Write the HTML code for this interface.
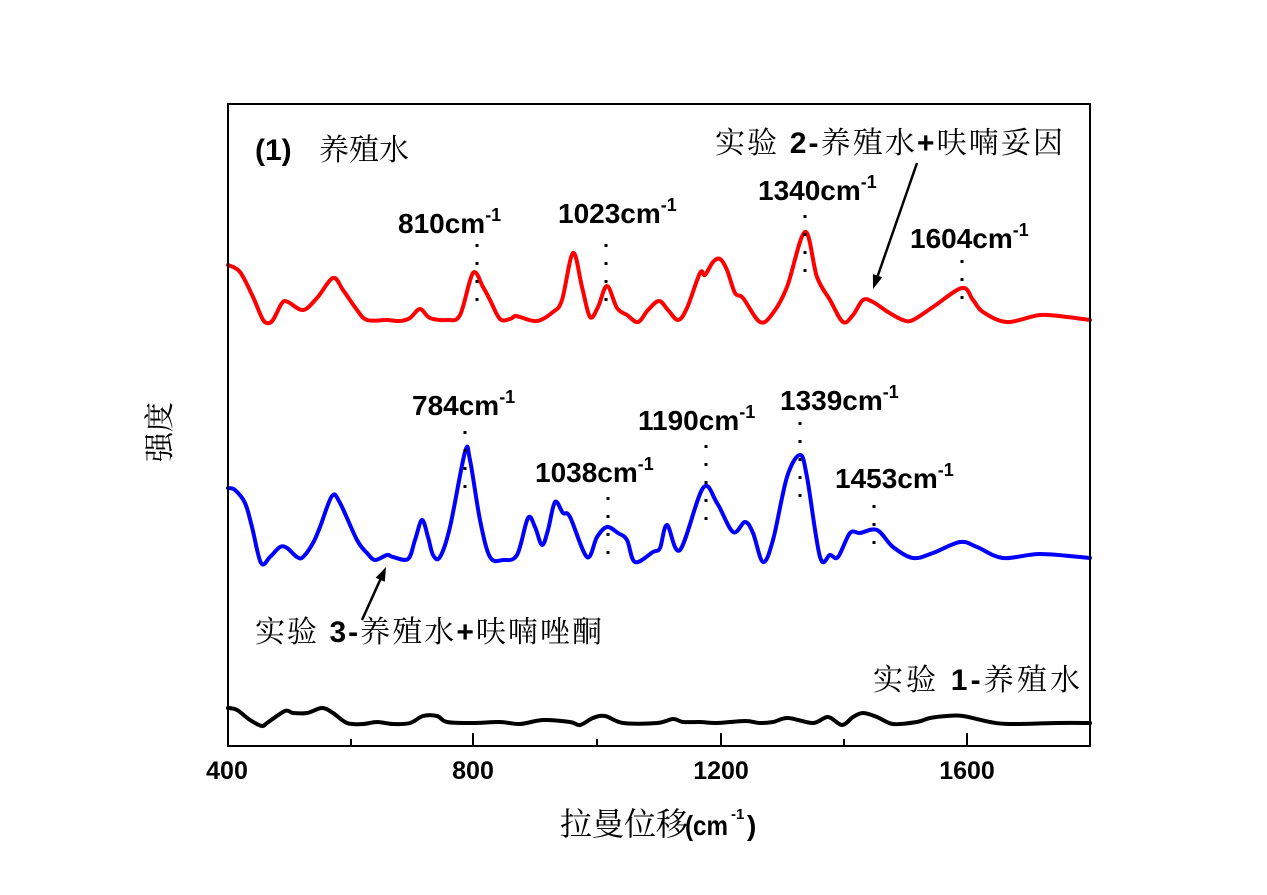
<!DOCTYPE html>
<html><head><meta charset="utf-8"><style>
html,body{margin:0;padding:0;background:#fff;}
svg{display:block;}
.num{font-family:"Liberation Sans",Arial,sans-serif;font-weight:bold;font-size:28px;fill:#000;}
.cjk{font-family:"Liberation Sans","Noto Serif CJK SC","Noto Sans CJK SC",serif;font-size:30px;fill:#000;}
.b{font-family:"Liberation Sans",sans-serif;font-weight:bold;}
.tick{font-family:"Liberation Sans",Arial,sans-serif;font-weight:bold;font-size:25px;fill:#000;}
</style></head><body>
<svg id="s" width="1267" height="895" viewBox="0 0 1267 895" xmlns="http://www.w3.org/2000/svg">
<rect width="1267" height="895" fill="#fff"/>

<!-- red curve -->
<polyline class="smooth" fill="none" stroke="#ff0000" stroke-width="4" stroke-linejoin="round" stroke-linecap="round" points="
228,265 240,272 253,297 262,318 267,323 273,320 282,303 288,302 303,310 317,298 333,278 343,290 357,310 367,320 387,320 400,321 410,318 420,309 430,318 447,320 460,315 473,273 483,287 490,300 500,319 510,319 515,316 520,317 537,321 553,312 562,300 573,253 582,287 590,317 598,307 607,286 617,308 627,315 638,322 648,310 659,301 668,310 678,320 687,308 700,273 705,275 713,262 720,259 727,270 735,293 743,298 760,322 773,313 787,287 805,232 817,277 830,300 843,322 853,315 863,300 873,302 888,312 903,320 913,320 933,307 962,288 973,300 983,312 1007,322 1040,315 1067,317 1090,320"/>

<!-- blue curve -->
<polyline class="smooth" fill="none" stroke="#0000ff" stroke-width="4" stroke-linejoin="round" stroke-linecap="round" points="
228,488 235,490 245,503 252,527 261,563 270,557 280,547 287,548 297,557 303,557 313,543 320,527 332,496 340,503 357,540 367,553 375,560 387,555 393,557 408,559 415,540 422,520 428,537 433,555 440,557 450,527 465,452 470,460 480,520 490,557 503,560 517,555 528,518 535,527 542,545 548,530 555,502 563,513 570,517 587,557 597,537 607,527 618,533 627,540 635,562 653,552 660,548 667,525 680,550 703,488 717,503 733,532 745,522 753,533 763,562 773,540 787,477 800,455 807,477 820,557 830,555 838,557 850,533 860,533 877,530 893,547 913,558 933,553 960,542 977,547 1003,558 1040,554 1090,558"/>

<!-- black curve -->
<polyline class="smooth" fill="none" stroke="#000" stroke-width="4" stroke-linejoin="round" stroke-linecap="round" points="
228,708 237,710 250,720 262,726 267,723 285,711 293,713 307,713 322,708 333,713 347,723 363,724 377,722 393,724 410,723 423,716 437,716 447,722 473,723 500,722 520,724 543,720 570,722 580,725 593,718 605,716 623,723 657,723 673,719 683,722 700,722 717,723 745,721 760,723 773,722 788,718 813,723 828,717 842,725 853,717 863,713 877,717 893,724 917,722 930,718 947,716 963,716 990,722 1010,724 1057,723 1090,723"/>

<!-- frame -->
<rect x="228" y="104" width="862" height="642" fill="none" stroke="#000" stroke-width="2"/>
<!-- ticks -->
<g stroke="#000" stroke-width="2">
<line x1="228" y1="746" x2="228" y2="733"/>
<line x1="351" y1="746" x2="351" y2="739"/>
<line x1="473" y1="746" x2="473" y2="733"/>
<line x1="597" y1="746" x2="597" y2="739"/>
<line x1="721" y1="746" x2="721" y2="733"/>
<line x1="844" y1="746" x2="844" y2="739"/>
<line x1="967" y1="746" x2="967" y2="733"/>
</g>
<text class="tick" x="227" y="779" text-anchor="middle">400</text>
<text class="tick" x="473" y="779" text-anchor="middle">800</text>
<text class="tick" x="721" y="779" text-anchor="middle">1200</text>
<text class="tick" x="967" y="779" text-anchor="middle">1600</text>

<!-- dotted guide lines -->
<g stroke="#000" stroke-width="3" stroke-dasharray="3 15">
<line x1="477" y1="244" x2="477" y2="306"/>
<line x1="606" y1="244" x2="606" y2="302"/>
<line x1="805" y1="215" x2="805" y2="275"/>
<line x1="962" y1="260" x2="962" y2="303"/>
<line x1="465" y1="431" x2="465" y2="490"/>
<line x1="608" y1="497" x2="608" y2="555"/>
<line x1="706" y1="445" x2="706" y2="522"/>
<line x1="800" y1="422" x2="800" y2="500"/>
<line x1="874" y1="505" x2="874" y2="546"/>
</g>

<!-- peak labels -->
<text class="num" x="398" y="233">810cm<tspan font-size="18" dy="-12">-1</tspan></text>
<text class="num" x="558" y="223">1023cm<tspan font-size="18" dy="-12">-1</tspan></text>
<text class="num" x="758" y="200">1340cm<tspan font-size="18" dy="-12">-1</tspan></text>
<text class="num" x="910" y="248">1604cm<tspan font-size="18" dy="-12">-1</tspan></text>
<text class="num" x="412" y="415">784cm<tspan font-size="18" dy="-12">-1</tspan></text>
<text class="num" x="535" y="482">1038cm<tspan font-size="18" dy="-12">-1</tspan></text>
<text class="num" x="638" y="430">1190cm<tspan font-size="18" dy="-12">-1</tspan></text>
<text class="num" x="780" y="410">1339cm<tspan font-size="18" dy="-12">-1</tspan></text>
<text class="num" x="835" y="488">1453cm<tspan font-size="18" dy="-12">-1</tspan></text>

<!-- annotations -->
<text class="cjk" x="255" y="160"><tspan class="b">(1)</tspan><tspan x="319">养殖水</tspan></text>
<text class="cjk" x="715" y="153" textLength="348">实验 <tspan class="b">2-</tspan>养殖水<tspan class="b">+</tspan>呋喃妥因</text>
<text class="cjk" x="255" y="642" textLength="347">实验 <tspan class="b">3-</tspan>养殖水<tspan class="b">+</tspan>呋喃唑酮</text>
<text class="cjk" x="873" y="690" textLength="207">实验 <tspan class="b">1-</tspan>养殖水</text>

<!-- arrows -->
<line x1="917" y1="163" x2="877" y2="278" stroke="#000" stroke-width="2.5"/>
<polygon points="873,289 882.3,277.3 872.9,274.1" fill="#000"/>
<line x1="362" y1="620" x2="381" y2="578" stroke="#000" stroke-width="2.5"/>
<polygon points="386,567 384.8,581.8 375.6,577.7" fill="#000"/>

<!-- axis titles -->
<text class="cjk" x="560" y="835" style="font-size:32px">拉曼位移</text>
<text class="num" x="685" y="835" style="font-size:28px" textLength="43" lengthAdjust="spacingAndGlyphs">(cm</text>
<text class="num" x="731" y="819" style="font-size:15px">-1</text>
<text class="num" x="747" y="835" style="font-size:28px">)</text>
<text class="cjk" transform="translate(170,432) rotate(-90)" text-anchor="middle" style="font-size:30px">强度</text>
</svg>
<script>
(function(){
  var ns="http://www.w3.org/2000/svg";
  var pls=document.querySelectorAll("polyline.smooth");
  for(var k=0;k<pls.length;k++){
    var pl=pls[k];
    var raw=pl.getAttribute("points").trim().split(/\s+/).map(function(s){var a=s.split(",");return [parseFloat(a[0]),parseFloat(a[1])];});
    var d="M"+raw[0][0]+","+raw[0][1];
    for(var i=0;i<raw.length-1;i++){
      var p0=raw[i-1]||raw[i],p1=raw[i],p2=raw[i+1],p3=raw[i+2]||raw[i+1];
      var t=0.5/3;
      var c1x=p1[0]+(p2[0]-p0[0])*t, c1y=p1[1]+(p2[1]-p0[1])*t;
      var c2x=p2[0]-(p3[0]-p1[0])*t, c2y=p2[1]-(p3[1]-p1[1])*t;
      d+=" C"+c1x.toFixed(2)+","+c1y.toFixed(2)+" "+c2x.toFixed(2)+","+c2y.toFixed(2)+" "+p2[0]+","+p2[1];
    }
    var path=document.createElementNS(ns,"path");
    path.setAttribute("d",d);
    ["fill","stroke","stroke-width","stroke-linejoin","stroke-linecap"].forEach(function(a){path.setAttribute(a,pl.getAttribute(a));});
    pl.parentNode.replaceChild(path,pl);
  }
})();
</script>
</body></html>
